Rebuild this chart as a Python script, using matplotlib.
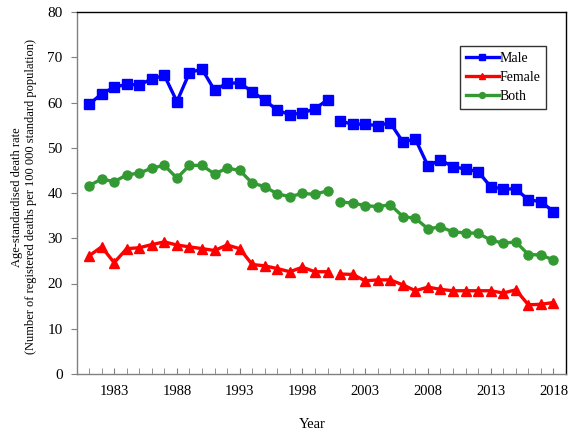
import matplotlib
matplotlib.use("Agg")
import matplotlib.pyplot as plt
import numpy as np

years1 = list(range(1981, 2001))
years2 = list(range(2001, 2019))

male1 = [59.6, 61.9, 63.4, 64.0, 63.9, 65.2, 66.0, 60.2, 66.6, 67.4,
         62.7, 64.3, 64.3, 62.4, 60.5, 58.3, 57.3, 57.7, 58.6, 60.6]
male2 = [55.9, 55.2, 55.2, 54.9, 55.5, 51.3, 51.9, 46.0, 47.3, 45.8,
         45.3, 44.7, 41.4, 40.9, 40.9, 38.5, 38.1, 35.9]
female1 = [26.1, 28.1, 24.6, 27.7, 27.9, 28.6, 29.2, 28.5, 28.1, 27.7,
           27.3, 28.5, 27.7, 24.2, 23.9, 23.3, 22.6, 23.6, 22.6, 22.6]
female2 = [22.1, 22.0, 20.6, 20.8, 20.8, 19.7, 18.4, 19.2, 18.7, 18.4,
           18.4, 18.4, 18.4, 17.9, 18.6, 15.3, 15.4, 15.8]
both1 = [41.6, 43.1, 42.5, 44.0, 44.4, 45.5, 46.1, 43.3, 46.1, 46.1,
         44.2, 45.5, 45.0, 42.2, 41.4, 39.8, 39.2, 39.9, 39.7, 40.5]
both2 = [38.0, 37.8, 37.2, 37.0, 37.4, 34.8, 34.4, 32.1, 32.5, 31.4,
         31.2, 31.1, 29.6, 28.9, 29.2, 26.4, 26.3, 25.2]

labels = ["Male", "Female", "Both"]
xtick_labels = ["1983", "1988", "1993", "1998", "2003", "2008", "2013", "2018"]

plt.rcParams['font.family'] = ['Liberation Serif', 'DejaVu Serif']

W, H = 588, 443
fig = plt.figure(figsize=(W / 100, H / 100), dpi=100)
ax = fig.add_axes([76.5 / W, 1 - 374 / H, (566 - 76.5) / W, (374 - 12) / H])

blue = "#0000FF"
red = "#FF0000"
green = "#339933"
lw = 2.4

styles = [
    (male1, male2, blue, "s", 7),
    (female1, female2, red, "^", 7.5),
    (both1, both2, green, "o", 6.5),
]
handles = []
for (s1, s2, c, m, ms), lab in zip(styles, labels):
    h, = ax.plot(years1, s1, color=c, marker=m, markersize=ms, lw=lw, label=lab)
    ax.plot(years2, s2, color=c, marker=m, markersize=ms, lw=lw)
    handles.append(h)

ax.set_xlim(1980, 2019)
ax.set_ylim(0, 80)
ax.set_yticks(range(0, 81, 10))
ax.set_xticks([int(t) for t in xtick_labels])
ax.set_xticklabels(xtick_labels)
ax.set_xticks(range(1981, 2019), minor=True)
ax.tick_params(axis='x', which='both', direction='in', length=4, color='#808080',
               labelsize=10.5, pad=8)
ax.tick_params(axis='y', direction='out', length=4, color='#808080', labelsize=11, pad=6)

for sp in ['left', 'bottom']:
    ax.spines[sp].set_color('#808080')
for sp in ['top', 'right']:
    ax.spines[sp].set_color('black')
for sp in ax.spines.values():
    sp.set_linewidth(1.0)

leg = ax.legend(handles=handles, loc='upper left',
                bbox_to_anchor=((460 - 76.5) / (566 - 76.5), 1 - (46 - 12) / (374 - 12)),
                borderaxespad=0,
                frameon=True, fancybox=False, edgecolor='black', fontsize=10,
                handlelength=2.4, handletextpad=0.05, labelspacing=0.45,
                borderpad=0.4, markerscale=0.65)
leg.get_frame().set_linewidth(1.0)

fig.text(24 / W, 1 - 197 / H,
         "Age-standardised death rate\n(Number of registered deaths per 100 000 standard population)",
         rotation=90, ha='center', va='center', fontsize=9, linespacing=1.2)
fig.text(312 / W, 1 - 425 / H, "Year", ha='center', va='center', fontsize=10.5)

fig.savefig("out.png", dpi=100)
